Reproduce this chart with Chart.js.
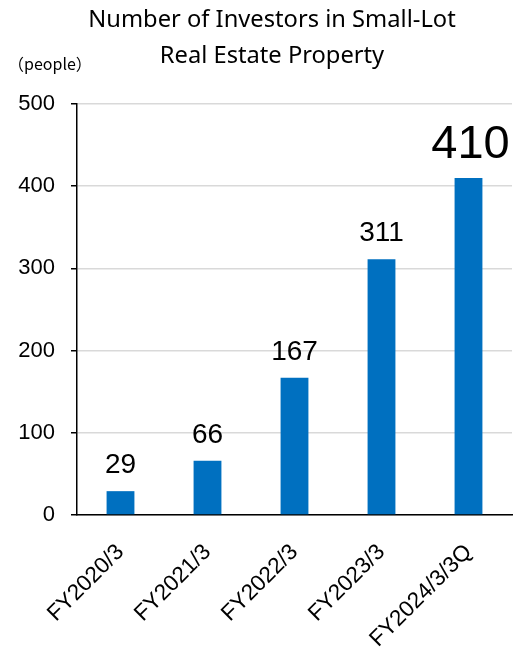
<!DOCTYPE html>
<html>
<head>
<meta charset="utf-8">
<script src="https://cdn.jsdelivr.net/npm/chart.js@4"></script>
<style>
  html, body { margin: 0; padding: 0; background: #fff; }
  #wrap { width: 529px; height: 649px; }
</style>
</head>
<body>
<div id="wrap"><canvas id="investors-chart"></canvas></div>
<script>
const categories = ['FY2020/3', 'FY2021/3', 'FY2022/3', 'FY2023/3', 'FY2024/3/3Q'];
const investors = [29, 66, 167, 311, 410];
const titleLines = ['Number of Investors in Small-Lot', 'Real Estate Property'];
const unitLabel = '（people）';
const yMax = 500;
const yStep = 100;

// labels on top of the bars, last one drawn bigger
const valueLabels = {
  id: 'valueLabels',
  afterDatasetsDraw(chart) {
    const ctx = chart.ctx;
    const meta = chart.getDatasetMeta(0);
    ctx.save();
    ctx.fillStyle = '#000';
    ctx.textAlign = 'center';
    ctx.textBaseline = 'alphabetic';
    meta.data.forEach((bar, i) => {
      const last = i === meta.data.length - 1;
      ctx.font = (last ? '47px' : '28px') + ' "Liberation Sans", Arial, sans-serif';
      ctx.fillText(String(investors[i]), bar.x + (last ? 2 : 0), bar.y - (last ? 20 : 18));
    });
    ctx.restore();
  }
};

// two-line title and unit text
const headerText = {
  id: 'headerText',
  afterDraw(chart) {
    const ctx = chart.ctx;
    ctx.save();
    ctx.fillStyle = '#000';
    ctx.textAlign = 'center';
    ctx.textBaseline = 'alphabetic';
    ctx.font = '23.7px "Noto Sans", sans-serif';
    ctx.fillText(titleLines[0], 272, 27);
    ctx.fillText(titleLines[1], 272, 63);
    ctx.textAlign = 'left';
    ctx.font = '16px "Noto Sans CJK JP", "Noto Sans", sans-serif';
    ctx.fillText(unitLabel, 8, 70);
    ctx.restore();
  }
};

new Chart(document.getElementById('investors-chart'), {
  type: 'bar',
  data: {
    labels: categories,
    datasets: [{
      data: investors,
      backgroundColor: '#0070C0',
      borderWidth: 0,
      categoryPercentage: 1,
      barPercentage: 0.32
    }]
  },
  options: {
    responsive: true,
    maintainAspectRatio: false,
    animation: false,
    layout: { padding: { top: 104, right: 17, left: 0, bottom: 0 } },
    plugins: {
      legend: { display: false },
      tooltip: { enabled: false }
    },
    scales: {
      x: {
        grid: { display: false },
        border: { display: true, color: '#000', width: 1.5 },
        ticks: {
          color: '#000',
          font: { family: '"Liberation Sans", Arial, sans-serif', size: 22.5 },
          minRotation: 45,
          maxRotation: 45,
          padding: 16
        },
        afterFit(scale) { scale.height = 134; }
      },
      y: {
        min: 0,
        max: yMax,
        grid: {
          color: '#d9d9d9',
          lineWidth: 1.5,
          tickColor: '#000',
          tickLength: 6
        },
        border: { display: true, color: '#000', width: 1.5 },
        ticks: {
          stepSize: yStep,
          color: '#000',
          font: { family: '"Liberation Sans", Arial, sans-serif', size: 22 },
          padding: 16
        },
        afterFit(scale) { scale.width = 77; }
      }
    }
  },
  plugins: [valueLabels, headerText]
});
</script>
</body>
</html>
